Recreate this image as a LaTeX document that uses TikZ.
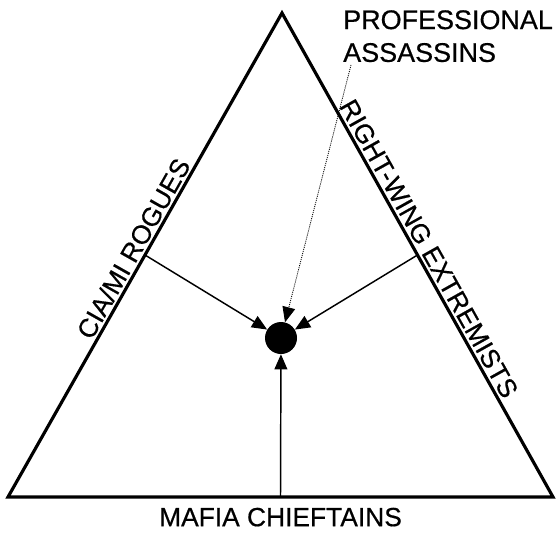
\documentclass[tikz,border=0pt]{standalone}
\usepackage{fontspec}
\setmainfont{Liberation Sans}
\newfontfamily\capsfont{Liberation Sans}[FakeBold=0.5]
\usetikzlibrary{arrows.meta, positioning, calc}

\begin{document}
\begin{tikzpicture}[x=0.03cm,y=-0.03cm,
          side/.style={line width=2.7pt,line join=miter},
          push/.style={-{Triangle[length=13pt,width=11pt]},line width=1.25pt},
          hint/.style={-{Triangle[length=13pt,width=11pt]},line width=0.7pt,
                       dash pattern=on 0.9pt off 0.9pt},
          caps/.style={font=\capsfont\fontsize{22.5}{25}\selectfont,inner sep=0pt},
          hub/.style={circle,fill=black,inner sep=0pt,minimum size=0.96cm}]
        \useasboundingbox (0,0) rectangle (556,533);
        \coordinate (apex) at (282,13);
        \coordinate (bl) at (8,497);
        \coordinate (br) at (553,497);
        \draw[side] (apex) -- (bl) -- (br) -- cycle;
        \node[hub](core) at (281,338){};
        % side labels
        \path (bl) -- (apex)
          node[caps,midway,sloped,above=3pt](cia){CIA/MI ROGUES};
        \path (apex) -- (br)
          node[caps,midway,sloped,above=3pt](rw){RIGHT-WING EXTREMISTS};
        \node[caps,below=9pt of $(bl)!0.5!(br)$](mafia){MAFIA CHIEFTAINS};
        \node[caps,align=left,anchor=north west,
              font=\capsfont\fontsize{23}{28}\selectfont](pro) at (343,10)
          {PROFESSIONAL\\ASSASSINS};
        % arrows into the centre
        \coordinate (lm) at ($(bl)!0.5!(apex)$);
        \coordinate (rm) at ($(apex)!0.5!(br)$);
        \coordinate (bm) at ($(bl)!0.5!(br)$);
        \coordinate (tail) at (351,65);
        \draw[push](lm)--(core);
        \draw[push](rm)--(core);
        \draw[push](bm)--(core);
        \draw[hint](tail)--(core);
      \end{tikzpicture}
\end{document}
